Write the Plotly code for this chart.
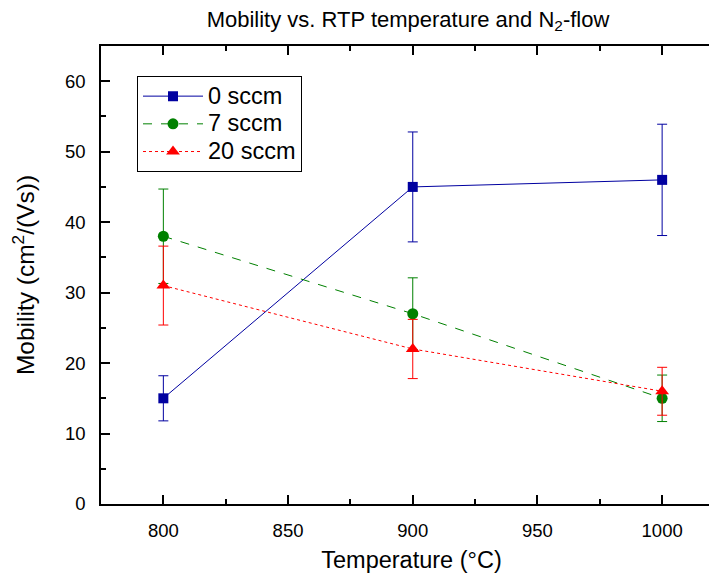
import plotly.graph_objects as go

temperature = [800, 900, 1000]

mob_0 = [15, 45, 46]
err_0 = [3.2, 7.8, 7.9]

mob_7 = [38, 27, 15]
err_7 = [6.7, 5.1, 3.3]

mob_20 = [31, 22, 16]
err_20 = [5.6, 4.2, 3.4]

series_names = ["0 sccm", "7 sccm", "20 sccm"]

FONT = "Arial, Liberation Sans, sans-serif"


def legend_label(s):
    return "<span style='font-size:23.5px'>" + s + "</span>"


fig = go.Figure()

fig.add_trace(go.Scatter(
    x=temperature, y=mob_0, name=legend_label(series_names[0]), mode="lines+markers",
    line=dict(color="#0000A0", width=1, dash="solid"),
    marker=dict(symbol="square", size=10, color="#0000A0"),
    error_y=dict(type="data", array=err_0, visible=True, color="#0000A0", thickness=1, width=5),
))
fig.add_trace(go.Scatter(
    x=temperature, y=mob_7, name=legend_label(series_names[1]), mode="lines+markers",
    line=dict(color="#008000", width=1, dash="dash"),
    marker=dict(symbol="circle", size=11, color="#008000"),
    error_y=dict(type="data", array=err_7, visible=True, color="#008000", thickness=1, width=5),
))
fig.add_trace(go.Scatter(
    x=temperature, y=mob_20, name=legend_label(series_names[2]), mode="lines+markers",
    line=dict(color="#FF0000", width=1, dash="dot"),
    marker=dict(symbol="triangle-up", size=12, color="#FF0000"),
    error_y=dict(type="data", array=err_20, visible=True, color="#FF0000", thickness=1, width=5),
))

axis_common = dict(
    showline=True, linecolor="black", linewidth=1.5,
    mirror="ticks", ticks="inside", ticklen=9, tickwidth=1.5, tickcolor="black",
    showgrid=False, zeroline=False, automargin=False,
    tickfont=dict(family=FONT, size=18.5, color="black"),
)

# the page body adds an 8px offset; margins are given in figure coordinates
fig.update_layout(
    width=717, height=577,
    margin=dict(l=93, r=3, t=38, b=81),
    paper_bgcolor="white", plot_bgcolor="white",
    font=dict(family=FONT, color="black"),
    title=dict(
        text="Mobility vs. RTP temperature and N<sub>2</sub>-flow",
        font=dict(family=FONT, size=22, color="black"),
        x=400 / 717, xanchor="center", y=1 - 11 / 577, yanchor="middle",
    ),
    xaxis=dict(
        range=[775, 1024], tickvals=[800, 850, 900, 950, 1000],
        minor=dict(ticks="inside", ticklen=5, tickwidth=1.5, tickcolor="black", dtick=25, tick0=775),
        ticklabelstandoff=9,
        title=dict(text="Temperature (°C)", font=dict(family=FONT, size=23.5, color="black"), standoff=12),
        **axis_common,
    ),
    yaxis=dict(
        range=[0, 65], tickvals=[0, 10, 20, 30, 40, 50, 60],
        minor=dict(ticks="inside", ticklen=5, tickwidth=1.5, tickcolor="black", dtick=5, tick0=0),
        ticklabelstandoff=10,
        title=dict(text="Mobility (cm<sup>2</sup>/(Vs))", font=dict(family=FONT, size=24.5, color="black"), standoff=28),
        **axis_common,
    ),
    legend=dict(
        x=36 / 621, y=(496 - 68) / 458.3, xanchor="left", yanchor="top",
        bgcolor="white", bordercolor="black", borderwidth=1,
        font=dict(family=FONT, size=19, color="black"),
        tracegroupgap=0, itemwidth=60,
    ),
    showlegend=True,
)

fig.write_html("out.html")
